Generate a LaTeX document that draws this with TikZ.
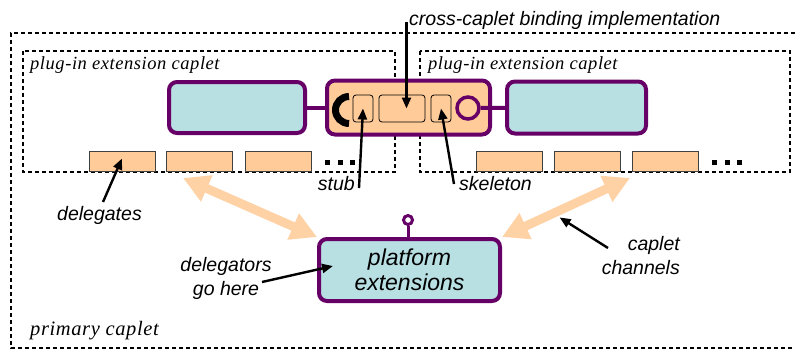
\documentclass[tikz,border=0pt]{standalone}
\usepackage{fontspec}
\setsansfont{Liberation Sans}
\newfontfamily\capletfont[LetterSpace=3]{Liberation Serif}
\usetikzlibrary{arrows.meta}
\definecolor{capcyan}{RGB}{184,224,227}
\definecolor{cappurple}{RGB}{102,0,102}
\definecolor{caporange}{RGB}{255,204,153}
\definecolor{chanpeach}{RGB}{255,210,166}
\tikzset{
  dashbox/.style={draw, line width=1.4pt, dash pattern=on 4pt off 3pt},
  capbox/.style={draw=cappurple, line width=4pt, fill=capcyan, rounded corners=8pt, inner sep=0pt},
  bindbox/.style={draw=cappurple, line width=4pt, fill=caporange, rounded corners=8pt, inner sep=0pt},
  part/.style={draw, line width=0.8pt, fill=caporange, rounded corners=3pt, minimum height=27pt, inner sep=0pt},
  dlg/.style={draw=black!75, line width=0.8pt, fill=caporange, minimum width=66pt, minimum height=20pt, inner sep=0pt},
  wire/.style={cappurple, line width=4pt},
  lbl/.style={font=\sffamily\itshape\fontsize{19.5}{24}\selectfont, inner sep=0pt},
  captxt/.style={font=\capletfont\itshape\fontsize{18.5}{22}\selectfont, inner sep=0pt},
  pointer/.style={-{Triangle[length=11pt,width=9pt]}, line width=2.4pt},
  channel/.style={{Triangle[length=26pt,width=27pt]}-{Triangle[length=26pt,width=27pt]}, chanpeach, line width=9pt}
}
\begin{document}
\begin{tikzpicture}[x=1pt, y=-1pt]
\useasboundingbox (0,0) rectangle (795,349);
% caplet outlines
\draw[dashbox] (795,33) -- (11,33) -- (11,348) -- (795,348);
\draw[dashbox] (23,51) rectangle (395,172);
\draw[dashbox] (420,51) rectangle (790,172);
\node[captxt, anchor=base west] (leftname) at (30,69) {plug-in extension caplet};
\node[captxt, anchor=base west] (rightname) at (428,69) {plug-in extension caplet};
\node[captxt, font=\capletfont\itshape\fontsize{20.5}{24}\selectfont, anchor=base west] (primname) at (30,335) {primary caplet};
% caplets and the binding between them
\node[capbox, minimum width=136pt, minimum height=51pt] (leftcap) at (237,107.5) {};
\node[capbox, minimum width=139pt, minimum height=52pt] (rightcap) at (576.5,107.5) {};
\node[bindbox, minimum width=163pt, minimum height=54pt] (bind) at (408.5,107.5) {};
\draw[wire] (leftcap) -- (bind);
\node[part, minimum width=20pt] (stubbox) at (363,108.5) {};
\node[part, minimum width=46pt] (implbox) at (402,108.5) {};
\node[part, minimum width=20pt] (skelbox) at (441,108.5) {};
\node[circle, draw=cappurple, line width=3.5pt, fill=caporange, minimum size=22pt, inner sep=0pt] (skt) at (468,108) {};
\draw[wire] (skt) -- (rightcap);
\draw[line width=7pt] (349,96.5) arc[start angle=90, end angle=270, radius=13.5pt];
% delegate slots
\foreach \n/\x in {1/122,2/199.5,3/278.5}
  \node[dlg] (dl\n) at (\x,161.5) {};
\foreach \n/\x in {1/509.5,2/587,3/665.5}
  \node[dlg] (dr\n) at (\x,161.5) {};
\foreach \x in {325,337.5,350,712,724.5,737}
  \fill (\x,160) rectangle +(5,5);
% channels to the platform
\coordinate (chanL) at (183,178);
\coordinate (chanR) at (630,178);
\node[capbox, minimum width=181pt, minimum height=62pt, align=center,
      font=\sffamily\itshape\fontsize{23}{25}\selectfont] (plat) at (409.5,270) {platform\\extensions};
\draw[channel] (chanL) -- (plat.north west);
\draw[channel] (chanR) -- (plat.north east);
\path (chanR) -- (plat.north east) coordinate[pos=0.55] (chanmid);
\node[circle, draw=cappurple, line width=3pt, fill=white, minimum size=9pt, inner sep=0pt] (lolli) at (408,220) {};
\draw[cappurple, line width=3pt] (lolli) -- (lolli |- plat.north);
% labels
\node[lbl, anchor=base west] (impltxt) at (409,25) {cross-caplet binding implementation};
\node[lbl, anchor=base east] (stubtxt) at (355,190) {stub};
\node[lbl, anchor=base west] (skeltxt) at (459,190) {skeleton};
\node[lbl, anchor=base west] (dlgtxt) at (57,220) {delegates};
\node[lbl, align=center, anchor=north] (dgrtxt) at (226,257) {delegators\\go here};
\node[lbl, align=right, anchor=north east] (chntxt) at (680,236) {caplet\\channels};
\coordinate (impltail) at (406.5,22);
\coordinate (stubtail) at (359,188);
\coordinate (skeltail) at (454,184);
\coordinate (dlgtail) at (103,202);
\coordinate (dgrtail) at (262,282);
\coordinate (chntail) at (608,248);
\draw[pointer] (impltail) -- ([xshift=4.5pt]implbox.center);
\draw[pointer] (stubtail) -- (stubbox.center);
\draw[pointer] (skeltail) -- (skelbox.center);
\draw[pointer] (dlgtail) -- ([yshift=3pt]dl1.center);
\draw[pointer] (dgrtail) -- ([xshift=16pt,yshift=4pt]plat.west);
\draw[pointer] (chntail) -- ([yshift=-7pt]chanmid);
\end{tikzpicture}
\end{document}
